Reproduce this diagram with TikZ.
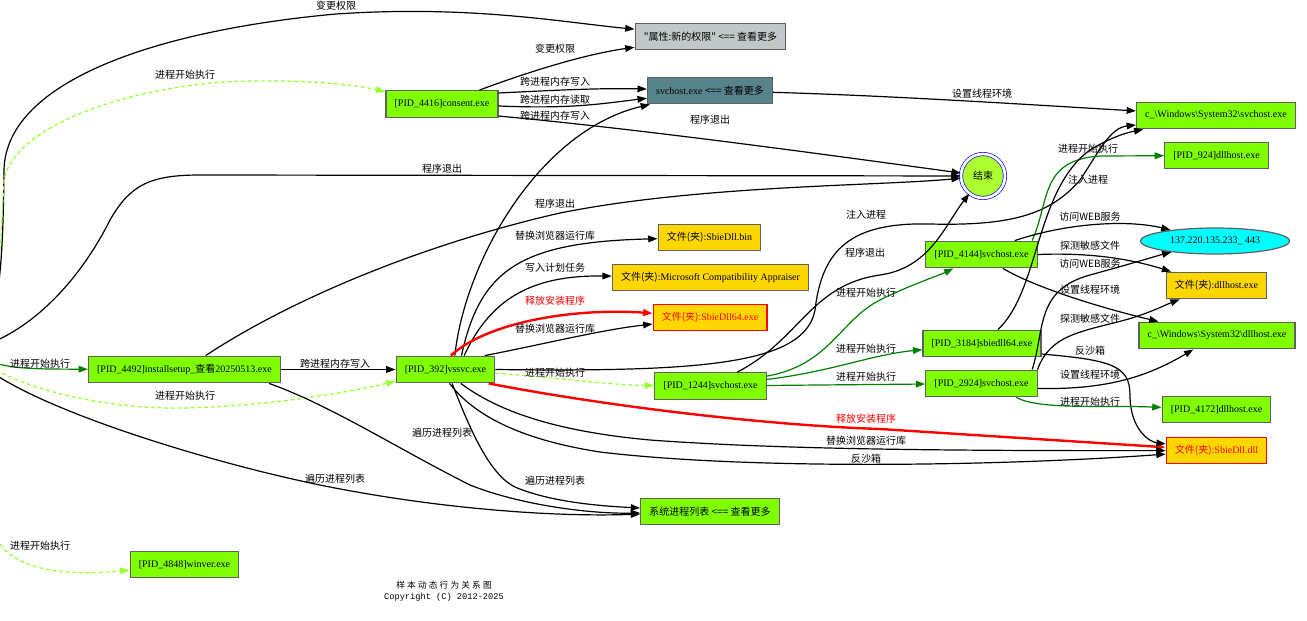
\documentclass[tikz,border=0pt]{standalone}
\usepackage{fontspec}
\setmainfont{Liberation Serif}
\setmonofont{Liberation Mono}
\newfontfamily\cjk{Noto Sans CJK SC}
\newcommand\zh[1]{{\cjk #1}}
\usetikzlibrary{arrows.meta,shapes.geometric}
\definecolor{procgreen}{HTML}{7FFF00}
\definecolor{filegold}{HTML}{FFD700}
\definecolor{attrgray}{HTML}{C0C8C8}
\definecolor{moreteal}{HTML}{57838A}
\definecolor{endgreen}{HTML}{ADFF2F}
\definecolor{startgreen}{HTML}{008000}
\definecolor{newgreen}{HTML}{99FF33}
\definecolor{nodeline}{HTML}{606060}
\definecolor{ipcyan}{HTML}{00FFFF}

\begin{document}
\begin{tikzpicture}[x=0.75pt,y=-0.75pt,>={Triangle[length=7pt,width=5pt]},
    box/.style={rectangle, draw=nodeline, line width=0.9pt, minimum height=20pt, inner xsep=6.5pt, font=\fontsize{7.5}{9}\selectfont},
    proc/.style={box, fill=procgreen},
    file/.style={box, fill=filegold},
    drop/.style={file, draw=red, text=red},
    lbl/.style={font=\cjk\fontsize{7.5}{9}\selectfont, inner sep=1pt, text=black},
    link/.style={->, line width=0.9pt},
    spawn/.style={link, startgreen},
    newproc/.style={link, newgreen, dash pattern=on 3pt off 2pt},
    release/.style={link, red, line width=1.8pt}]
        \useasboundingbox (0,0) rectangle (1307,621);
        \clip (0,0) rectangle (1307,621);
        \coordinate (src) at (-30,350);
        \node[box, fill=attrgray, font=\cjk\fontsize{7.5}{9}\selectfont] at (710.5,36.5) (attr) {"属性:新的权限" <== 查看更多};
        \node[box, fill=moreteal] at (710,90.5) (svcmore) {svchost.exe \zh{<== 查看更多}};
        \node[proc] at (442,104) (consent) {[PID\_4416]consent.exe};
        \node[proc] at (1216,115.5) (winsvc) {c\_\textbackslash Windows\textbackslash System32\textbackslash svchost.exe};
        \node[circle, draw=blue, double=white, double distance=2pt, line width=0.5pt, fill=endgreen, minimum size=33pt, font=\cjk\fontsize{7.5}{9}\selectfont] at (983,176) (fin) {结束};
        \node[proc] at (1216.5,155.5) (dll924) {[PID\_924]dllhost.exe};
        \node[file] at (709.5,237.5) (sbiebin) {\zh{文件(夹)}:SbieDll.bin};
        \node[file] at (710.5,277.5) (apprs) {\zh{文件(夹)}:Microsoft Compatibility Appraiser};
        \node[drop] at (710,317.5) (sbie64) {\zh{文件(夹)}:SbieDll64.exe};
        \node[proc] at (981.5,254.5) (svc4144) {[PID\_4144]svchost.exe};
        \node[ellipse, draw=nodeline, line width=0.9pt, fill=ipcyan, minimum width=112pt, minimum height=19.5pt, inner sep=0pt, font=\fontsize{7.5}{9}\selectfont] at (1215,241) (ip) {137.220.135.233\_ 443};
        \node[file] at (1216.5,285.5) (dllfile) {\zh{文件(夹)}:dllhost.exe};
        \node[proc] at (1217,335.5) (windll) {c\_\textbackslash Windows\textbackslash System32\textbackslash dllhost.exe};
        \node[proc] at (982,343.5) (sbie3184) {[PID\_3184]sbiedll64.exe};
        \node[proc] at (981.5,383.5) (svc2924) {[PID\_2924]svchost.exe};
        \node[proc] at (1216.5,409.5) (dll4172) {[PID\_4172]dllhost.exe};
        \node[drop] at (1216.5,450.5) (sbiedll) {\zh{文件(夹)}:SbieDll.dll};
        \node[proc] at (184.5,369.5) (install) {[PID\_4492]installsetup\_\zh{查看}20250513.exe};
        \node[proc] at (445.5,369.5) (vssvc) {[PID\_392]vssvc.exe};
        \node[proc] at (710.5,386) (svc1244) {[PID\_1244]svchost.exe};
        \node[proc, font=\cjk\fontsize{7.5}{9}\selectfont] at (710,511.5) (proclist) {系统进程列表 <== 查看更多};
        \node[proc] at (184.5,564.5) (winver) {[PID\_4848]winver.exe};
        \node[align=center, inner sep=0pt, font=\ttfamily\fontsize{6.5}{8}\selectfont] at (444,591) (footer) {\zh{\addfontfeatures{LetterSpace=25}样本动态行为关系图}\\Copyright (C) 2012-2025};
        \draw[link] (src) .. controls (0,340) and (3,260) .. (4,170) .. controls (6,80) and (160,30) .. (336,14) .. controls (470,5) and (560,22) .. (attr) node[lbl] at (336,6) {变更权限};
        \draw[newproc] (src) .. controls (0,330) and (1,230) .. (4,180) .. controls (15,120) and (150,82) .. (250,81) .. controls (320,80) and (360,86) .. (consent) node[lbl] at (185,75) {进程开始执行};
        \draw[link] (src) .. controls (30,335) and (80,280) .. (110,220) .. controls (130,185) and (150,175) .. (200,175) -- (fin) node[lbl] at (442,169) {程序退出};
        \draw[spawn] (src) .. controls (-5,369) and (20,369) .. (install) node[lbl] at (40,364) {进程开始执行};
        \draw[newproc] (src) .. controls (0,385) and (100,410) .. (185,408) .. controls (270,406) and (350,392) .. (vssvc) node[lbl] at (185,396) {进程开始执行};
        \draw[link] (src) .. controls (-10,395) and (200,462) .. (335,488) .. controls (450,510) and (560,517) .. (proclist) node[lbl] at (335,479) {遍历进程列表};
        \draw[newproc] (src) .. controls (-40,450) and (-20,525) .. (5,550) .. controls (30,574) and (80,575) .. (winver) node[lbl] at (40,546) {进程开始执行};
        \draw[link] (consent) .. controls (520,75) and (580,55) .. (attr) node[lbl] at (555,49) {变更权限};
        \draw[link] (consent.11) .. controls (560,90) and (600,88) .. (svcmore) node[lbl] at (555,82) {跨进程内存写入};
        \draw[link] (consent.-2) .. controls (570,109) and (600,104) .. (svcmore) node[lbl] at (555,100) {跨进程内存读取};
        \draw[link] (consent.-12) .. controls (650,130) and (850,158) .. (fin) node[lbl] at (710,120) {程序退出};
        \draw[link] (svcmore) .. controls (900,96) and (1050,106) .. (winsvc) node[lbl] at (982,94) {设置线程环境};
        \draw[link] (install) -- (vssvc) node[lbl] at (335,364) {跨进程内存写入};
        \draw[link] (install) .. controls (290,300) and (420,245) .. (560,213) .. controls (700,185) and (880,186) .. (fin) node[lbl] at (555,204) {程序退出};
        \draw[link] ([xshift=-9pt]install.south east) .. controls (330,405) and (400,450) .. (470,485) .. controls (520,505) and (590,514) .. (proclist) node[lbl] at (442,433) {遍历进程列表};
        \draw[link] ([xshift=7pt]vssvc.north) .. controls (465,260) and (540,130) .. (svcmore) node[lbl] at (555,116) {跨进程内存写入};
        \draw[link] ([xshift=12pt]vssvc.north) .. controls (480,270) and (520,242) .. (sbiebin) node[lbl] at (555,236) {替换浏览器运行库};
        \draw[link] ([xshift=14pt]vssvc.north) .. controls (490,300) and (530,275) .. (apprs) node[lbl] at (555,268) {写入计划任务};
        \draw[release] ([xshift=4pt]vssvc.north) .. controls (490,320) and (580,308) .. (sbie64) node[lbl, text=red] at (555,301) {释放安装程序};
        \draw[link] ([xshift=-8pt]vssvc.north east) .. controls (540,345) and (600,330) .. (sbie64) node[lbl] at (555,329) {替换浏览器运行库};
        \draw[link] (vssvc.east) .. controls (700,372) and (805,365) .. (815,310) .. controls (822,250) and (850,222) .. (930,224) .. controls (1010,226) and (1050,215) .. (1080,180) .. controls (1100,150) and (1110,128) .. (winsvc) node[lbl] at (866,215) {注入进程};
        \draw[newproc] (vssvc) .. controls (560,378) and (610,385) .. (svc1244) node[lbl] at (555,373) {进程开始执行};
        \draw[release] ([xshift=-5pt]vssvc.south east) .. controls (600,405) and (760,425) .. (880,429) -- (sbiedll) node[lbl, text=red] at (866,419) {释放安装程序};
        \draw[link] ([xshift=-26pt]vssvc.south east) .. controls (490,405) and (540,430) .. (650,440) .. controls (760,448) and (900,451) .. (sbiedll) node[lbl] at (866,441) {替换浏览器运行库};
        \draw[link] ([xshift=3pt]vssvc.south) .. controls (470,410) and (510,438) .. (600,452) .. controls (750,470) and (1000,466) .. (sbiedll) node[lbl] at (866,459) {反沙箱};
        \draw[link] ([xshift=5pt]vssvc.south) .. controls (470,430) and (490,475) .. (515,487) .. controls (550,502) and (600,506) .. (proclist) node[lbl] at (555,481) {遍历进程列表};
        \draw[link] ([xshift=20pt]svc1244.north) .. controls (800,340) and (810,285) .. (880,275) .. controls (930,268) and (945,225) .. (fin) node[lbl] at (865,253) {程序退出};
        \draw[spawn] (svc1244) .. controls (830,365) and (840,320) .. (880,300) .. controls (910,285) and (940,275) .. (svc4144) node[lbl] at (866,293) {进程开始执行};
        \draw[spawn] (svc1244) .. controls (830,372) and (870,355) .. (sbie3184) node[lbl] at (866,349) {进程开始执行};
        \draw[spawn] (svc1244) -- (svc2924) node[lbl] at (866,377) {进程开始执行};
        \draw[spawn] ([xshift=38pt]svc4144.north) .. controls (1050,200) and (1040,160) .. (1100,156) -- (dll924) node[lbl] at (1088,149) {进程开始执行};
        \draw[link] ([xshift=25pt]svc4144.north) .. controls (1070,222) and (1130,220) .. (ip) node[lbl] at (1090,217) {访问WEB服务};
        \draw[link] (svc4144.east) .. controls (1100,252) and (1140,262) .. (dllfile) node[lbl] at (1090,246) {探测敏感文件};
        \draw[link] ([xshift=16pt]svc4144.south) .. controls (1040,290) and (1110,310) .. (windll) node[lbl] at (1090,290) {设置线程环境};
        \draw[link] ([xshift=12pt]sbie3184.north) .. controls (1040,290) and (1035,190) .. (1090,150) .. controls (1115,135) and (1130,132) .. (winsvc) node[lbl] at (1088,180) {注入进程};
        \draw[link] (sbie3184.-10) .. controls (1110,360) and (1130,365) .. (1130,395) .. controls (1130,430) and (1150,442) .. (sbiedll) node[lbl] at (1090,351) {反沙箱};
        \draw[link] ([xshift=38pt]svc2924.north) .. controls (1045,330) and (1035,290) .. (1090,275) .. controls (1130,264) and (1160,255) .. (ip) node[lbl] at (1090,264) {访问WEB服务};
        \draw[link] ([xshift=42pt]svc2924.north) .. controls (1050,335) and (1080,332) .. (1125,320) .. controls (1150,313) and (1165,305) .. (dllfile) node[lbl] at (1090,319) {探测敏感文件};
        \draw[link] (svc2924.-5) .. controls (1110,390) and (1150,375) .. (windll) node[lbl] at (1090,375) {设置线程环境};
        \draw[spawn] ([xshift=26pt]svc2924.south) .. controls (1040,410) and (1100,405) .. (dll4172) node[lbl] at (1090,402) {进程开始执行};
      \end{tikzpicture}
\end{document}
